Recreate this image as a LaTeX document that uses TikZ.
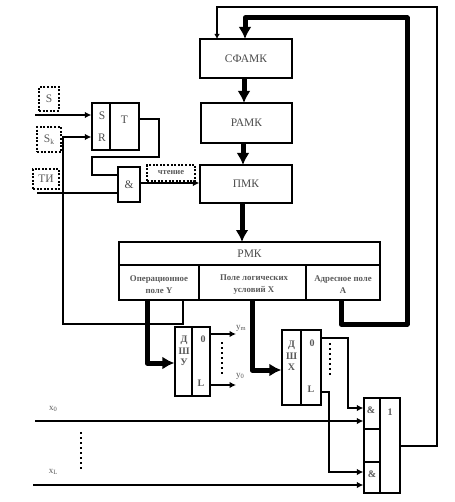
\documentclass[tikz,border=0pt]{standalone}
\usepackage{fontspec}
\setmainfont{Liberation Serif}
\usetikzlibrary{arrows.meta,calc}
\tikzset{
  box/.style={draw=black,line width=1.3pt,fill=white,inner sep=0pt,align=center,font=\fontsize{11.5}{13}\selectfont\color{black!70}},
  txt/.style={inner sep=0pt,align=center,font=\fontsize{11.5}{13}\selectfont\color{black!70}},
  fieldtxt/.style={inner sep=0pt,align=center,font=\fontsize{8.8}{12}\selectfont\bfseries\color{black!65}},
  dectxt/.style={inner sep=0pt,align=center,font=\fontsize{10}{11.5}\selectfont\bfseries\color{black!65}},
  dotbox/.style={draw=black,line width=1.4pt,dash pattern=on 2pt off 1.6pt,inner sep=0pt,font=\fontsize{11.5}{13}\selectfont\color{black!65}},
  sig/.style={draw=black,line width=1.3pt},
  sigarrow/.style={sig,-{Latex[length=6.5pt,width=6.5pt]}},
  bus/.style={draw=black,line width=5pt},
  busarrow/.style={bus,-{Latex[length=12pt,width=13pt]}},
  lbl/.style={inner sep=0pt,font=\fontsize{9}{10}\selectfont\color{black!65}},
  dots/.style={draw=black,line width=2pt,dash pattern=on 2.2pt off 2.8pt}
}
\begin{document}
\begin{tikzpicture}[x=1pt,y=-1pt]
\useasboundingbox (0,0) rectangle (454,502);
% main blocks
\node[box,minimum width=92pt,minimum height=39pt] (sfamk) at (246,58.5) {СФАМК};
\node[box,minimum width=91pt,minimum height=40pt] (ramk) at (246.5,123) {РАМК};
\node[box,minimum width=92pt,minimum height=38pt] (pmk) at (246,184) {ПМК};
% RMK
\node[box,minimum width=261pt,minimum height=23pt] (rmk) at (249.5,253.5) {РМК};
\node[box,minimum width=80pt,minimum height=35pt] (opf) at (159,282.5) {};
\node[box,minimum width=107pt,minimum height=35pt] (logf) at (252.5,282.5) {};
\node[box,minimum width=74pt,minimum height=35pt] (adrf) at (343,282.5) {};
\node[fieldtxt] (topf) at (159,285) {Операционное\\поле Y};
\node[fieldtxt] (tlogf) at (254,285) {Поле логических\\условий X};
\node[fieldtxt] (tadrf) at (343,285) {Адресное поле\\А};
% trigger
\node[box,minimum width=18pt,minimum height=47pt] (srs) at (101,126.5) {};
\node[box,minimum width=29pt,minimum height=47pt] (trg) at (124.5,126.5) {};
\node[txt] (tT) at (124.5,120) {Т};
\node[txt] (tS) at (102,116) {S};
\node[txt] (tR) at (102,138) {R};
% and
\node[box,minimum width=22pt,minimum height=35pt] (andg) at (129,184.5) {\&};
% dotted
\node[dotbox,minimum width=20pt,minimum height=24pt] (dS) at (49,99) {S};
\node[dotbox,minimum width=24pt,minimum height=25pt] (dSk) at (49,139.5) {S\raisebox{-1.5pt}{\fontsize{7.5}{8}\selectfont k}};
\node[dotbox,minimum width=26pt,minimum height=20pt] (dTI) at (46,179) {ТИ};
\node[dotbox,minimum width=48pt,minimum height=16pt,font=\fontsize{8.5}{9}\selectfont\bfseries\color{black!65}] (dRead) at (171,173) {чтение};
% decoders
\node[box,minimum width=17pt,minimum height=69pt] (dshyA) at (183.5,361.5) {};
\node[box,minimum width=18pt,minimum height=69pt] (dshyB) at (201,361.5) {};
\node[box,minimum width=19pt,minimum height=75pt] (dshxA) at (291.5,367.5) {};
\node[box,minimum width=20pt,minimum height=75pt] (dshxB) at (311,367.5) {};
\node[dectxt] (tdy) at (184,351) {Д\\Ш\\У};
\node[dectxt] (tdx) at (291.5,356) {Д\\Ш\\Х};
\node[dectxt] (y0t) at (203,339) {0};
\node[dectxt] (yLt) at (201,383) {L};
\node[dectxt] (x0t) at (312,343) {0};
\node[dectxt] (xLt) at (311,389) {L};
% output OR block
\node[box,minimum width=16pt,minimum height=31pt] (and0) at (372,413.5) {};
\node[box,minimum width=16pt,minimum height=33pt] (midc) at (372,445.5) {};
\node[box,minimum width=16pt,minimum height=31pt] (andL) at (372,477.5) {};
\node[box,minimum width=20pt,minimum height=95pt] (orb) at (390,445.5) {};
\node[dectxt] (a0t) at (371,410) {\&};
\node[dectxt] (aLt) at (372,474) {\&};
\node[dectxt] (ort) at (390,412) {1};
% free coordinates
\coordinate (sIn) at (35,115);
\coordinate (tiIn) at (37,193);
\coordinate (x0In) at (35,421);
\coordinate (xLIn) at (33,485);
\coordinate (ymEnd) at (236,334);
\coordinate (y0End) at (236,385);
% thick buses
\draw[busarrow] (sfamk.south -| 244,0) -- (244,103);
\draw[busarrow] (243,143) -- (243,165);
\draw[busarrow] (242,203) -- (242,242);
\draw[busarrow,line join=round] (341,300) -- (341,324) -- (407,324) -- (407,18) -- (245,18) -- (245,39);
\draw[busarrow,line join=round] (147,300) -- (147,363) -- (dshyA.west |- 0,363);
\draw[busarrow,line join=round] (252,300) -- (252,370) -- (dshxA.west |- 0,370);
% thin signals
\draw[sigarrow] (sIn) -- (srs.west |- sIn);
\draw[sigarrow] (183,300) -- (183,324) -- (63,324) -- (63,137) -- (srs.west |- 0,137);
\draw[sig] (tiIn) -- (andg.west |- tiIn);
\draw[sig] (trg.east |- 0,119) -- (159,119) -- (159,157) -- (92,157) -- (92,175) -- (andg.west |- 0,175);
\draw[sigarrow] (andg.east |- 0,183) -- (pmk.west |- 0,183);
\draw[sigarrow] (dshyB.east |- ymEnd) -- (ymEnd);
\draw[sigarrow] (dshyB.east |- y0End) -- (y0End);
\draw[sigarrow] (dshxB.east |- 0,338) -- (348,338) -- (348,408) -- (and0.west |- 0,408);
\draw[sigarrow] (dshxB.east |- 0,392) -- (329,392) -- (329,472) -- (andL.west |- 0,472);
\draw[sigarrow] (x0In) -- (and0.west |- x0In);
\draw[sigarrow] (xLIn) -- (andL.west |- xLIn);
\draw[sig,-{Latex[length=5pt,width=5.5pt]}] (orb.east |- 0,446) -- (437,446) -- (437,7) -- (217,7) -- (217,39);
% dots
\draw[dots] (222,342) -- (222,376);
\draw[dots] (330,343) -- (330,376);
\draw[dots,line width=1.6pt] (81,432) -- (81,471);
% labels
\node[lbl] (lym) at (241,328) {y\raisebox{-1pt}{\fontsize{6.5}{7}\selectfont m}};
\node[lbl] (ly0) at (240,376) {y\raisebox{-1pt}{\fontsize{6.5}{7}\selectfont 0}};
\node[lbl] (lx0) at (53,409) {x\raisebox{-1pt}{\fontsize{6.5}{7}\selectfont 0}};
\node[lbl] (lxL) at (53,472) {x\raisebox{-1pt}{\fontsize{6.5}{7}\selectfont L}};
\end{tikzpicture}
\end{document}
